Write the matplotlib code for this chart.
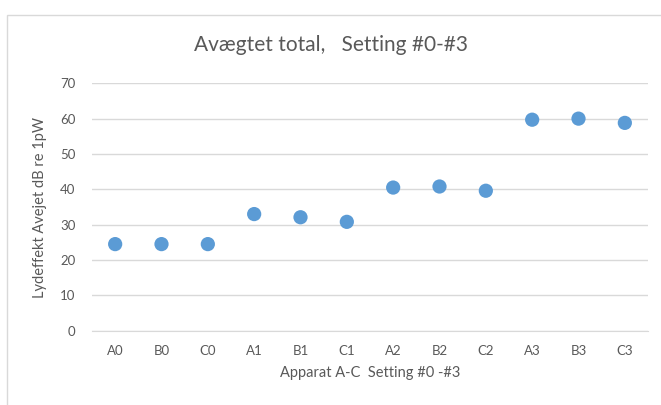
import matplotlib
matplotlib.use("Agg")
import matplotlib.pyplot as plt
from matplotlib.patches import Rectangle

# Målte værdier, A-weighted lydeffekt pr. apparat og setting
apparater = ["A0", "B0", "C0", "A1", "B1", "C1", "A2", "B2", "C2", "A3", "B3", "C3"]
lydeffekt = [24.5, 24.5, 24.5, 33.0, 32.1, 30.8, 40.5, 40.8, 39.6, 59.7, 60.0, 58.8]
y_ticks = [0, 10, 20, 30, 40, 50, 60, 70]

BLAA = "#5B9BD5"
GRID = "#D9D9D9"
TEKST = "#595959"

plt.rcParams["font.family"] = ["Lato", "DejaVu Sans"]

fig = plt.figure(figsize=(6.61, 4.05), dpi=100)
fig.patch.set_facecolor("white")

# kant om diagramområdet
fig.patches.append(Rectangle((7 / 661, -0.5), 2.0, 0.5 + 1 - 15 / 405,
                             transform=fig.transFigure, fill=False,
                             edgecolor=GRID, linewidth=1.0))

ax = fig.add_axes([92 / 661, 1 - 330.7 / 405, (648 - 92) / 661, (330.7 - 83.3) / 405])
x = list(range(len(apparater)))
ax.scatter(x, lydeffekt, s=105, color=BLAA, edgecolors="none", zorder=3)

ax.set_xlim(-0.5, len(apparater) - 0.5)
ax.set_ylim(0, 70)
ax.set_yticks(y_ticks)
ax.set_xticks(x)
ax.set_xticklabels(apparater)
ax.grid(axis="y", color=GRID, linewidth=1.0)
ax.set_axisbelow(True)
for side in ["top", "right", "left"]:
    ax.spines[side].set_visible(False)
ax.spines["bottom"].set_color(GRID)
ax.tick_params(axis="both", length=0, colors=TEKST, labelsize=9.5)
ax.tick_params(axis="y", pad=12)
ax.tick_params(axis="x", pad=10)

fig.text(0.5, 1 - 45 / 405, "Avægtet total,   Setting #0-#3", ha="center", va="center",
         fontsize=15, color=TEKST)
ax.set_xlabel("Apparat A-C  Setting #0 -#3", fontsize=10.5, color=TEKST, labelpad=7)
ax.set_ylabel("Lydeffekt Avejet dB re 1pW", fontsize=10.5, color=TEKST, labelpad=9)

fig.savefig("out.png", dpi=100)
